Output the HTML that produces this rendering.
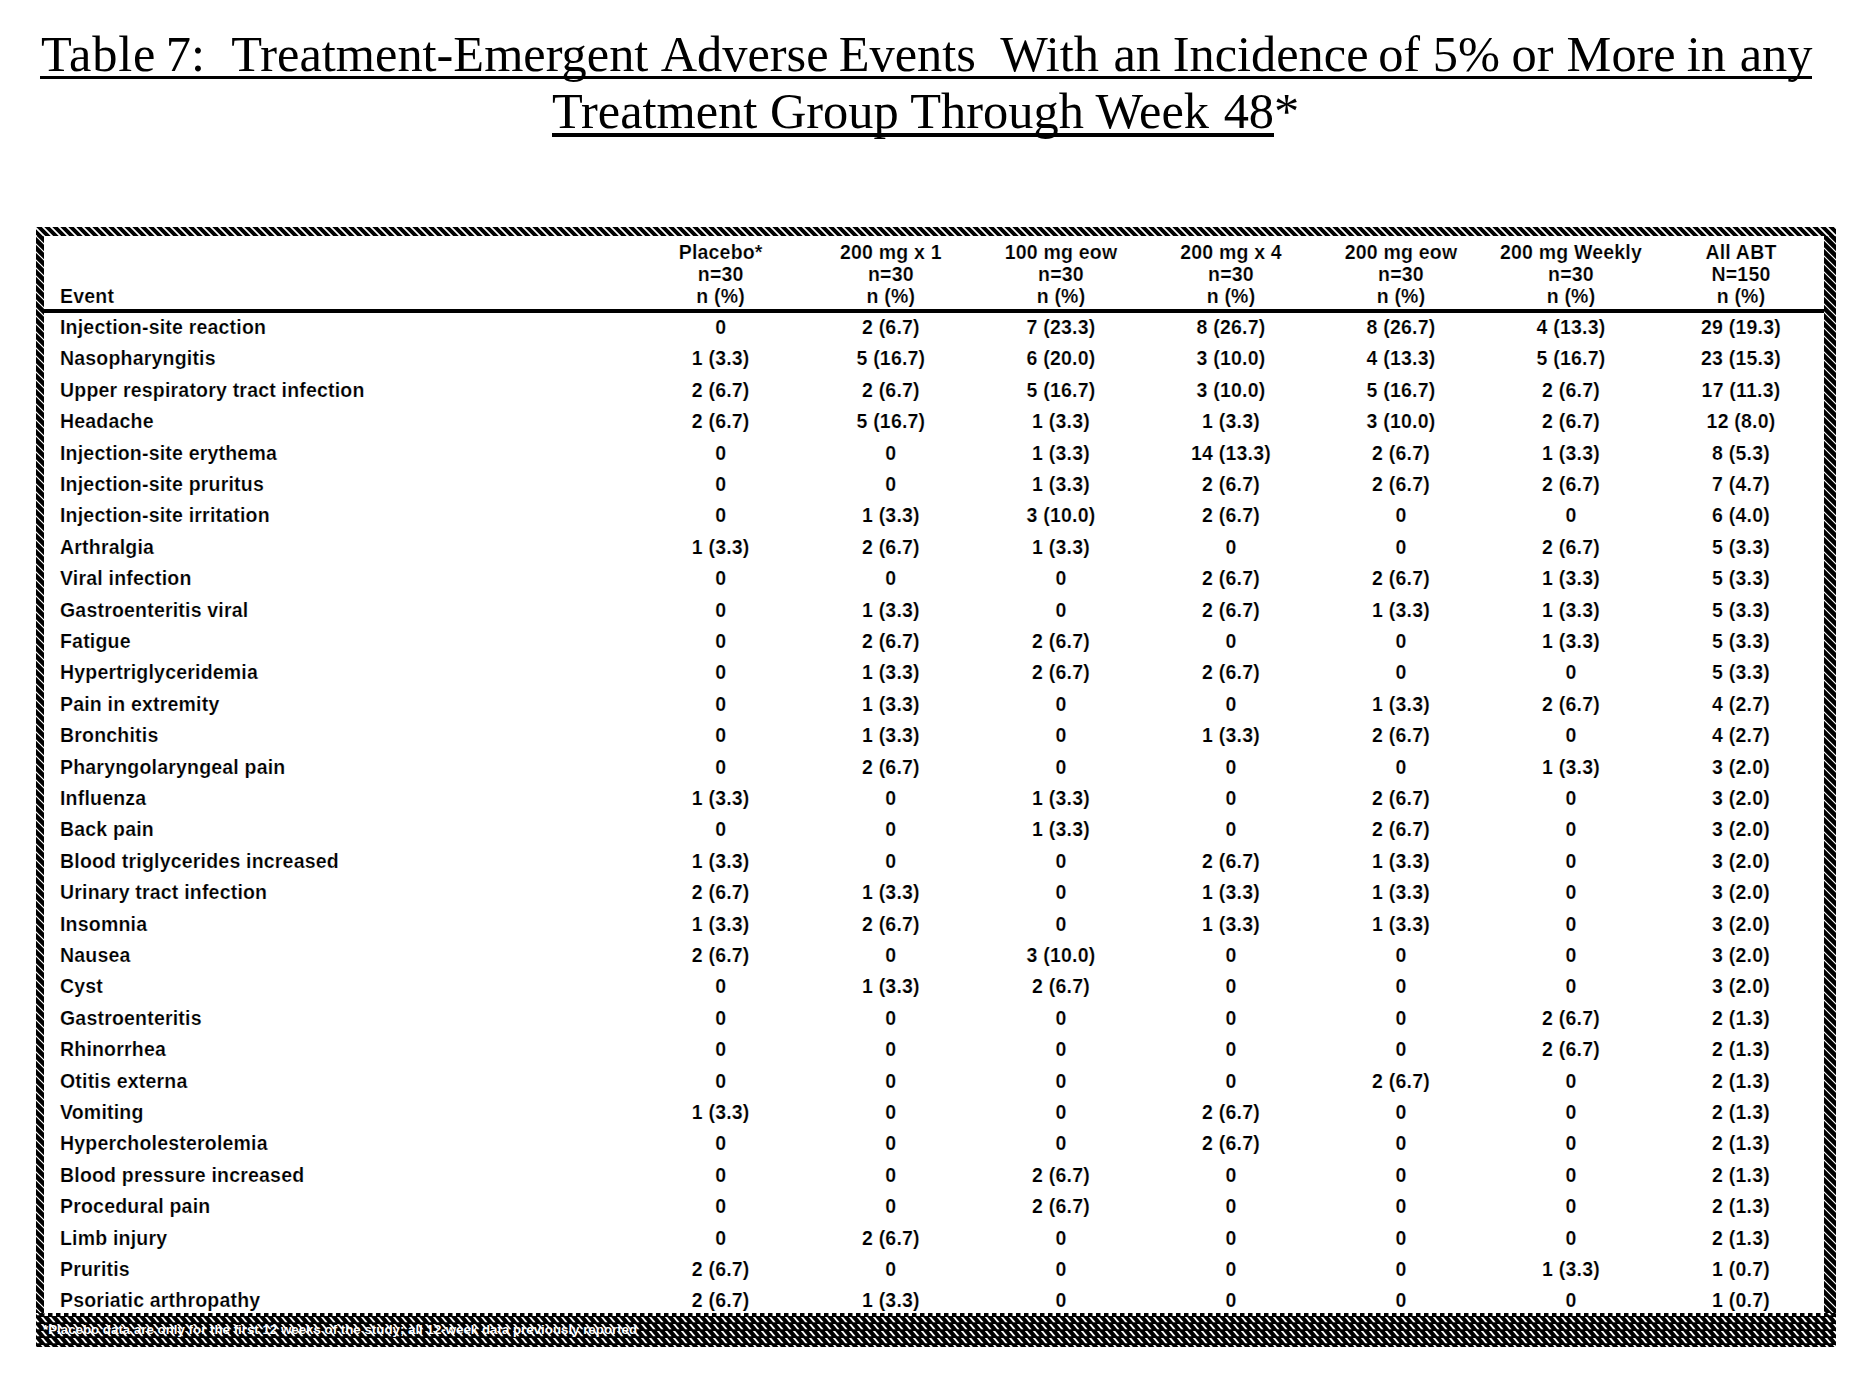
<!DOCTYPE html>
<html><head><meta charset="utf-8"><style>
html,body{margin:0;padding:0;background:#fff;}
body{width:1867px;height:1387px;position:relative;overflow:hidden;}
.t{position:absolute;font-family:"Liberation Serif",serif;font-size:50.4px;color:#000;white-space:pre;line-height:1;}
.u{text-decoration:underline;text-decoration-skip-ink:none;text-decoration-thickness:3px;text-underline-offset:5px;}
.c{position:absolute;font-family:"Liberation Sans",sans-serif;font-size:19.5px;font-weight:bold;letter-spacing:0.2px;color:#000;-webkit-text-stroke:0.2px #fff;white-space:pre;line-height:1;}
.ctr{text-align:center;width:160px;}
.frame{position:absolute;left:0;top:0;}
.rule{position:absolute;background:#000;}
.foot{position:absolute;font-family:"Liberation Sans",sans-serif;font-size:13.3px;font-weight:bold;color:#fff;white-space:pre;line-height:1;}
</style></head><body>

<div class="t" style="left:41px;top:29px;"><span style="position:relative;left:0px;letter-spacing:0.8px;margin-right:-4px;">Table</span> <span style="position:relative;left:1px;">7:</span>  <span style="position:relative;left:3px;">Treatment-Emergent</span> <span style="position:relative;left:5.5px;">Adverse</span> <span style="position:relative;left:3px;">Events</span>  <span style="position:relative;left:3px;">With</span> <span style="position:relative;left:5px;">an</span> <span style="position:relative;left:4px;">Incidence</span> <span style="position:relative;left:1px;">of</span> <span style="position:relative;left:1px;">5%</span> <span style="position:relative;left:0px;">or</span> <span style="position:relative;left:0.5px;">More</span> <span style="position:relative;left:-1px;">in</span> <span style="position:relative;left:0px;">any</span></div>
<div class="t" style="left:552px;top:86px;"><span style="position:relative;left:0px;">Treatment</span> <span style="position:relative;left:0px;">Group</span> <span style="position:relative;left:0px;">Through</span> <span style="position:relative;left:0px;">Week</span> <span style="position:relative;left:2px;">48*</span></div>
<div class="rule" style="left:40px;top:76px;width:1772px;height:3px;"></div>
<div class="rule" style="left:552px;top:133px;width:722px;height:4px;"></div>
<svg class="frame" width="1867" height="1387"><defs><pattern id="h" patternUnits="userSpaceOnUse" width="8" height="8"><rect width="8" height="8" fill="#000"/><path d="M0 0 L1.2 0 L8 6.8 L8 8 L6.8 8 L0 1.2 Z M6.8 0 L8 0 L8 1.2 Z M0 6.8 L1.2 8 L0 8 Z" fill="#fff"/></pattern><pattern id="r" patternUnits="userSpaceOnUse" width="8" height="8"><rect width="8" height="8" fill="#000"/><path d="M0 0 L0.8 0 L8 7.2 L8 8 L7.2 8 L0 0.8 Z M7.2 0 L8 0 L8 0.8 Z M0 7.2 L0.8 8 L0 8 Z" fill="#fff"/></pattern><pattern id="l" patternUnits="userSpaceOnUse" x="36" y="227" width="8" height="7"><rect width="8" height="7" fill="#000"/><rect x="3" y="1" width="2" height="2" fill="#fff"/><rect x="0" y="4" width="1" height="2" fill="#fff"/></pattern><pattern id="b" patternUnits="userSpaceOnUse" x="0" y="1317" width="8" height="7"><rect width="8" height="7" fill="#000"/><path d="M0.8 0 L3.2 0 L7.6 5.2 L5.2 5.2 Z" fill="#fff"/></pattern><pattern id="n" patternUnits="userSpaceOnUse" x="0" y="0" width="8" height="8"><rect width="8" height="8" fill="#000"/><rect x="4.5" width="3.5" height="8" fill="#fff"/></pattern></defs>
<rect x="36" y="227" width="1800" height="9" fill="url(#h)"/>
<rect x="36" y="236" width="8" height="1077" fill="url(#r)"/>
<rect x="1824" y="236" width="12" height="1077" fill="url(#r)"/>
<rect x="36" y="1313" width="1800" height="34" fill="url(#b)"/>
<rect x="44" y="1313" width="1780" height="3" fill="url(#n)"/>
</svg>
<div class="foot" style="left:43px;top:1323px;">*Placebo data are only for the first 12 weeks of the study; all 12-week data previously reported</div>
<div class="rule" style="left:44px;top:309px;width:1780px;height:4px;"></div>
<div class="c" style="left:60px;top:287px;">Event</div>
<div class="c ctr" style="left:640.7px;top:243px;">Placebo*</div>
<div class="c ctr" style="left:640.7px;top:265px;">n=30</div>
<div class="c ctr" style="left:640.7px;top:287px;">n (%)</div>
<div class="c ctr" style="left:810.9px;top:243px;">200 mg x 1</div>
<div class="c ctr" style="left:810.9px;top:265px;">n=30</div>
<div class="c ctr" style="left:810.9px;top:287px;">n (%)</div>
<div class="c ctr" style="left:981.0px;top:243px;">100 mg eow</div>
<div class="c ctr" style="left:981.0px;top:265px;">n=30</div>
<div class="c ctr" style="left:981.0px;top:287px;">n (%)</div>
<div class="c ctr" style="left:1151.0px;top:243px;">200 mg x 4</div>
<div class="c ctr" style="left:1151.0px;top:265px;">n=30</div>
<div class="c ctr" style="left:1151.0px;top:287px;">n (%)</div>
<div class="c ctr" style="left:1321.0px;top:243px;">200 mg eow</div>
<div class="c ctr" style="left:1321.0px;top:265px;">n=30</div>
<div class="c ctr" style="left:1321.0px;top:287px;">n (%)</div>
<div class="c ctr" style="left:1491.0px;top:243px;">200 mg Weekly</div>
<div class="c ctr" style="left:1491.0px;top:265px;">n=30</div>
<div class="c ctr" style="left:1491.0px;top:287px;">n (%)</div>
<div class="c ctr" style="left:1661.0px;top:243px;">All ABT</div>
<div class="c ctr" style="left:1661.0px;top:265px;">N=150</div>
<div class="c ctr" style="left:1661.0px;top:287px;">n (%)</div>
<div class="c" style="left:60px;top:318.0px;">Injection-site reaction</div>
<div class="c ctr" style="left:640.7px;top:318.0px;">0</div>
<div class="c ctr" style="left:810.9px;top:318.0px;">2 (6.7)</div>
<div class="c ctr" style="left:981.0px;top:318.0px;">7 (23.3)</div>
<div class="c ctr" style="left:1151.0px;top:318.0px;">8 (26.7)</div>
<div class="c ctr" style="left:1321.0px;top:318.0px;">8 (26.7)</div>
<div class="c ctr" style="left:1491.0px;top:318.0px;">4 (13.3)</div>
<div class="c ctr" style="left:1661.0px;top:318.0px;">29 (19.3)</div>
<div class="c" style="left:60px;top:349.4px;">Nasopharyngitis</div>
<div class="c ctr" style="left:640.7px;top:349.4px;">1 (3.3)</div>
<div class="c ctr" style="left:810.9px;top:349.4px;">5 (16.7)</div>
<div class="c ctr" style="left:981.0px;top:349.4px;">6 (20.0)</div>
<div class="c ctr" style="left:1151.0px;top:349.4px;">3 (10.0)</div>
<div class="c ctr" style="left:1321.0px;top:349.4px;">4 (13.3)</div>
<div class="c ctr" style="left:1491.0px;top:349.4px;">5 (16.7)</div>
<div class="c ctr" style="left:1661.0px;top:349.4px;">23 (15.3)</div>
<div class="c" style="left:60px;top:380.8px;">Upper respiratory tract infection</div>
<div class="c ctr" style="left:640.7px;top:380.8px;">2 (6.7)</div>
<div class="c ctr" style="left:810.9px;top:380.8px;">2 (6.7)</div>
<div class="c ctr" style="left:981.0px;top:380.8px;">5 (16.7)</div>
<div class="c ctr" style="left:1151.0px;top:380.8px;">3 (10.0)</div>
<div class="c ctr" style="left:1321.0px;top:380.8px;">5 (16.7)</div>
<div class="c ctr" style="left:1491.0px;top:380.8px;">2 (6.7)</div>
<div class="c ctr" style="left:1661.0px;top:380.8px;">17 (11.3)</div>
<div class="c" style="left:60px;top:412.2px;">Headache</div>
<div class="c ctr" style="left:640.7px;top:412.2px;">2 (6.7)</div>
<div class="c ctr" style="left:810.9px;top:412.2px;">5 (16.7)</div>
<div class="c ctr" style="left:981.0px;top:412.2px;">1 (3.3)</div>
<div class="c ctr" style="left:1151.0px;top:412.2px;">1 (3.3)</div>
<div class="c ctr" style="left:1321.0px;top:412.2px;">3 (10.0)</div>
<div class="c ctr" style="left:1491.0px;top:412.2px;">2 (6.7)</div>
<div class="c ctr" style="left:1661.0px;top:412.2px;">12 (8.0)</div>
<div class="c" style="left:60px;top:443.6px;">Injection-site erythema</div>
<div class="c ctr" style="left:640.7px;top:443.6px;">0</div>
<div class="c ctr" style="left:810.9px;top:443.6px;">0</div>
<div class="c ctr" style="left:981.0px;top:443.6px;">1 (3.3)</div>
<div class="c ctr" style="left:1151.0px;top:443.6px;">14 (13.3)</div>
<div class="c ctr" style="left:1321.0px;top:443.6px;">2 (6.7)</div>
<div class="c ctr" style="left:1491.0px;top:443.6px;">1 (3.3)</div>
<div class="c ctr" style="left:1661.0px;top:443.6px;">8 (5.3)</div>
<div class="c" style="left:60px;top:475.0px;">Injection-site pruritus</div>
<div class="c ctr" style="left:640.7px;top:475.0px;">0</div>
<div class="c ctr" style="left:810.9px;top:475.0px;">0</div>
<div class="c ctr" style="left:981.0px;top:475.0px;">1 (3.3)</div>
<div class="c ctr" style="left:1151.0px;top:475.0px;">2 (6.7)</div>
<div class="c ctr" style="left:1321.0px;top:475.0px;">2 (6.7)</div>
<div class="c ctr" style="left:1491.0px;top:475.0px;">2 (6.7)</div>
<div class="c ctr" style="left:1661.0px;top:475.0px;">7 (4.7)</div>
<div class="c" style="left:60px;top:506.4px;">Injection-site irritation</div>
<div class="c ctr" style="left:640.7px;top:506.4px;">0</div>
<div class="c ctr" style="left:810.9px;top:506.4px;">1 (3.3)</div>
<div class="c ctr" style="left:981.0px;top:506.4px;">3 (10.0)</div>
<div class="c ctr" style="left:1151.0px;top:506.4px;">2 (6.7)</div>
<div class="c ctr" style="left:1321.0px;top:506.4px;">0</div>
<div class="c ctr" style="left:1491.0px;top:506.4px;">0</div>
<div class="c ctr" style="left:1661.0px;top:506.4px;">6 (4.0)</div>
<div class="c" style="left:60px;top:537.8px;">Arthralgia</div>
<div class="c ctr" style="left:640.7px;top:537.8px;">1 (3.3)</div>
<div class="c ctr" style="left:810.9px;top:537.8px;">2 (6.7)</div>
<div class="c ctr" style="left:981.0px;top:537.8px;">1 (3.3)</div>
<div class="c ctr" style="left:1151.0px;top:537.8px;">0</div>
<div class="c ctr" style="left:1321.0px;top:537.8px;">0</div>
<div class="c ctr" style="left:1491.0px;top:537.8px;">2 (6.7)</div>
<div class="c ctr" style="left:1661.0px;top:537.8px;">5 (3.3)</div>
<div class="c" style="left:60px;top:569.2px;">Viral infection</div>
<div class="c ctr" style="left:640.7px;top:569.2px;">0</div>
<div class="c ctr" style="left:810.9px;top:569.2px;">0</div>
<div class="c ctr" style="left:981.0px;top:569.2px;">0</div>
<div class="c ctr" style="left:1151.0px;top:569.2px;">2 (6.7)</div>
<div class="c ctr" style="left:1321.0px;top:569.2px;">2 (6.7)</div>
<div class="c ctr" style="left:1491.0px;top:569.2px;">1 (3.3)</div>
<div class="c ctr" style="left:1661.0px;top:569.2px;">5 (3.3)</div>
<div class="c" style="left:60px;top:600.6px;">Gastroenteritis viral</div>
<div class="c ctr" style="left:640.7px;top:600.6px;">0</div>
<div class="c ctr" style="left:810.9px;top:600.6px;">1 (3.3)</div>
<div class="c ctr" style="left:981.0px;top:600.6px;">0</div>
<div class="c ctr" style="left:1151.0px;top:600.6px;">2 (6.7)</div>
<div class="c ctr" style="left:1321.0px;top:600.6px;">1 (3.3)</div>
<div class="c ctr" style="left:1491.0px;top:600.6px;">1 (3.3)</div>
<div class="c ctr" style="left:1661.0px;top:600.6px;">5 (3.3)</div>
<div class="c" style="left:60px;top:632.0px;">Fatigue</div>
<div class="c ctr" style="left:640.7px;top:632.0px;">0</div>
<div class="c ctr" style="left:810.9px;top:632.0px;">2 (6.7)</div>
<div class="c ctr" style="left:981.0px;top:632.0px;">2 (6.7)</div>
<div class="c ctr" style="left:1151.0px;top:632.0px;">0</div>
<div class="c ctr" style="left:1321.0px;top:632.0px;">0</div>
<div class="c ctr" style="left:1491.0px;top:632.0px;">1 (3.3)</div>
<div class="c ctr" style="left:1661.0px;top:632.0px;">5 (3.3)</div>
<div class="c" style="left:60px;top:663.4px;">Hypertriglyceridemia</div>
<div class="c ctr" style="left:640.7px;top:663.4px;">0</div>
<div class="c ctr" style="left:810.9px;top:663.4px;">1 (3.3)</div>
<div class="c ctr" style="left:981.0px;top:663.4px;">2 (6.7)</div>
<div class="c ctr" style="left:1151.0px;top:663.4px;">2 (6.7)</div>
<div class="c ctr" style="left:1321.0px;top:663.4px;">0</div>
<div class="c ctr" style="left:1491.0px;top:663.4px;">0</div>
<div class="c ctr" style="left:1661.0px;top:663.4px;">5 (3.3)</div>
<div class="c" style="left:60px;top:694.8px;">Pain in extremity</div>
<div class="c ctr" style="left:640.7px;top:694.8px;">0</div>
<div class="c ctr" style="left:810.9px;top:694.8px;">1 (3.3)</div>
<div class="c ctr" style="left:981.0px;top:694.8px;">0</div>
<div class="c ctr" style="left:1151.0px;top:694.8px;">0</div>
<div class="c ctr" style="left:1321.0px;top:694.8px;">1 (3.3)</div>
<div class="c ctr" style="left:1491.0px;top:694.8px;">2 (6.7)</div>
<div class="c ctr" style="left:1661.0px;top:694.8px;">4 (2.7)</div>
<div class="c" style="left:60px;top:726.2px;">Bronchitis</div>
<div class="c ctr" style="left:640.7px;top:726.2px;">0</div>
<div class="c ctr" style="left:810.9px;top:726.2px;">1 (3.3)</div>
<div class="c ctr" style="left:981.0px;top:726.2px;">0</div>
<div class="c ctr" style="left:1151.0px;top:726.2px;">1 (3.3)</div>
<div class="c ctr" style="left:1321.0px;top:726.2px;">2 (6.7)</div>
<div class="c ctr" style="left:1491.0px;top:726.2px;">0</div>
<div class="c ctr" style="left:1661.0px;top:726.2px;">4 (2.7)</div>
<div class="c" style="left:60px;top:757.6px;">Pharyngolaryngeal pain</div>
<div class="c ctr" style="left:640.7px;top:757.6px;">0</div>
<div class="c ctr" style="left:810.9px;top:757.6px;">2 (6.7)</div>
<div class="c ctr" style="left:981.0px;top:757.6px;">0</div>
<div class="c ctr" style="left:1151.0px;top:757.6px;">0</div>
<div class="c ctr" style="left:1321.0px;top:757.6px;">0</div>
<div class="c ctr" style="left:1491.0px;top:757.6px;">1 (3.3)</div>
<div class="c ctr" style="left:1661.0px;top:757.6px;">3 (2.0)</div>
<div class="c" style="left:60px;top:789.0px;">Influenza</div>
<div class="c ctr" style="left:640.7px;top:789.0px;">1 (3.3)</div>
<div class="c ctr" style="left:810.9px;top:789.0px;">0</div>
<div class="c ctr" style="left:981.0px;top:789.0px;">1 (3.3)</div>
<div class="c ctr" style="left:1151.0px;top:789.0px;">0</div>
<div class="c ctr" style="left:1321.0px;top:789.0px;">2 (6.7)</div>
<div class="c ctr" style="left:1491.0px;top:789.0px;">0</div>
<div class="c ctr" style="left:1661.0px;top:789.0px;">3 (2.0)</div>
<div class="c" style="left:60px;top:820.4px;">Back pain</div>
<div class="c ctr" style="left:640.7px;top:820.4px;">0</div>
<div class="c ctr" style="left:810.9px;top:820.4px;">0</div>
<div class="c ctr" style="left:981.0px;top:820.4px;">1 (3.3)</div>
<div class="c ctr" style="left:1151.0px;top:820.4px;">0</div>
<div class="c ctr" style="left:1321.0px;top:820.4px;">2 (6.7)</div>
<div class="c ctr" style="left:1491.0px;top:820.4px;">0</div>
<div class="c ctr" style="left:1661.0px;top:820.4px;">3 (2.0)</div>
<div class="c" style="left:60px;top:851.8px;">Blood triglycerides increased</div>
<div class="c ctr" style="left:640.7px;top:851.8px;">1 (3.3)</div>
<div class="c ctr" style="left:810.9px;top:851.8px;">0</div>
<div class="c ctr" style="left:981.0px;top:851.8px;">0</div>
<div class="c ctr" style="left:1151.0px;top:851.8px;">2 (6.7)</div>
<div class="c ctr" style="left:1321.0px;top:851.8px;">1 (3.3)</div>
<div class="c ctr" style="left:1491.0px;top:851.8px;">0</div>
<div class="c ctr" style="left:1661.0px;top:851.8px;">3 (2.0)</div>
<div class="c" style="left:60px;top:883.2px;">Urinary tract infection</div>
<div class="c ctr" style="left:640.7px;top:883.2px;">2 (6.7)</div>
<div class="c ctr" style="left:810.9px;top:883.2px;">1 (3.3)</div>
<div class="c ctr" style="left:981.0px;top:883.2px;">0</div>
<div class="c ctr" style="left:1151.0px;top:883.2px;">1 (3.3)</div>
<div class="c ctr" style="left:1321.0px;top:883.2px;">1 (3.3)</div>
<div class="c ctr" style="left:1491.0px;top:883.2px;">0</div>
<div class="c ctr" style="left:1661.0px;top:883.2px;">3 (2.0)</div>
<div class="c" style="left:60px;top:914.6px;">Insomnia</div>
<div class="c ctr" style="left:640.7px;top:914.6px;">1 (3.3)</div>
<div class="c ctr" style="left:810.9px;top:914.6px;">2 (6.7)</div>
<div class="c ctr" style="left:981.0px;top:914.6px;">0</div>
<div class="c ctr" style="left:1151.0px;top:914.6px;">1 (3.3)</div>
<div class="c ctr" style="left:1321.0px;top:914.6px;">1 (3.3)</div>
<div class="c ctr" style="left:1491.0px;top:914.6px;">0</div>
<div class="c ctr" style="left:1661.0px;top:914.6px;">3 (2.0)</div>
<div class="c" style="left:60px;top:946.0px;">Nausea</div>
<div class="c ctr" style="left:640.7px;top:946.0px;">2 (6.7)</div>
<div class="c ctr" style="left:810.9px;top:946.0px;">0</div>
<div class="c ctr" style="left:981.0px;top:946.0px;">3 (10.0)</div>
<div class="c ctr" style="left:1151.0px;top:946.0px;">0</div>
<div class="c ctr" style="left:1321.0px;top:946.0px;">0</div>
<div class="c ctr" style="left:1491.0px;top:946.0px;">0</div>
<div class="c ctr" style="left:1661.0px;top:946.0px;">3 (2.0)</div>
<div class="c" style="left:60px;top:977.4px;">Cyst</div>
<div class="c ctr" style="left:640.7px;top:977.4px;">0</div>
<div class="c ctr" style="left:810.9px;top:977.4px;">1 (3.3)</div>
<div class="c ctr" style="left:981.0px;top:977.4px;">2 (6.7)</div>
<div class="c ctr" style="left:1151.0px;top:977.4px;">0</div>
<div class="c ctr" style="left:1321.0px;top:977.4px;">0</div>
<div class="c ctr" style="left:1491.0px;top:977.4px;">0</div>
<div class="c ctr" style="left:1661.0px;top:977.4px;">3 (2.0)</div>
<div class="c" style="left:60px;top:1008.8px;">Gastroenteritis</div>
<div class="c ctr" style="left:640.7px;top:1008.8px;">0</div>
<div class="c ctr" style="left:810.9px;top:1008.8px;">0</div>
<div class="c ctr" style="left:981.0px;top:1008.8px;">0</div>
<div class="c ctr" style="left:1151.0px;top:1008.8px;">0</div>
<div class="c ctr" style="left:1321.0px;top:1008.8px;">0</div>
<div class="c ctr" style="left:1491.0px;top:1008.8px;">2 (6.7)</div>
<div class="c ctr" style="left:1661.0px;top:1008.8px;">2 (1.3)</div>
<div class="c" style="left:60px;top:1040.2px;">Rhinorrhea</div>
<div class="c ctr" style="left:640.7px;top:1040.2px;">0</div>
<div class="c ctr" style="left:810.9px;top:1040.2px;">0</div>
<div class="c ctr" style="left:981.0px;top:1040.2px;">0</div>
<div class="c ctr" style="left:1151.0px;top:1040.2px;">0</div>
<div class="c ctr" style="left:1321.0px;top:1040.2px;">0</div>
<div class="c ctr" style="left:1491.0px;top:1040.2px;">2 (6.7)</div>
<div class="c ctr" style="left:1661.0px;top:1040.2px;">2 (1.3)</div>
<div class="c" style="left:60px;top:1071.6px;">Otitis externa</div>
<div class="c ctr" style="left:640.7px;top:1071.6px;">0</div>
<div class="c ctr" style="left:810.9px;top:1071.6px;">0</div>
<div class="c ctr" style="left:981.0px;top:1071.6px;">0</div>
<div class="c ctr" style="left:1151.0px;top:1071.6px;">0</div>
<div class="c ctr" style="left:1321.0px;top:1071.6px;">2 (6.7)</div>
<div class="c ctr" style="left:1491.0px;top:1071.6px;">0</div>
<div class="c ctr" style="left:1661.0px;top:1071.6px;">2 (1.3)</div>
<div class="c" style="left:60px;top:1103.0px;">Vomiting</div>
<div class="c ctr" style="left:640.7px;top:1103.0px;">1 (3.3)</div>
<div class="c ctr" style="left:810.9px;top:1103.0px;">0</div>
<div class="c ctr" style="left:981.0px;top:1103.0px;">0</div>
<div class="c ctr" style="left:1151.0px;top:1103.0px;">2 (6.7)</div>
<div class="c ctr" style="left:1321.0px;top:1103.0px;">0</div>
<div class="c ctr" style="left:1491.0px;top:1103.0px;">0</div>
<div class="c ctr" style="left:1661.0px;top:1103.0px;">2 (1.3)</div>
<div class="c" style="left:60px;top:1134.4px;">Hypercholesterolemia</div>
<div class="c ctr" style="left:640.7px;top:1134.4px;">0</div>
<div class="c ctr" style="left:810.9px;top:1134.4px;">0</div>
<div class="c ctr" style="left:981.0px;top:1134.4px;">0</div>
<div class="c ctr" style="left:1151.0px;top:1134.4px;">2 (6.7)</div>
<div class="c ctr" style="left:1321.0px;top:1134.4px;">0</div>
<div class="c ctr" style="left:1491.0px;top:1134.4px;">0</div>
<div class="c ctr" style="left:1661.0px;top:1134.4px;">2 (1.3)</div>
<div class="c" style="left:60px;top:1165.8px;">Blood pressure increased</div>
<div class="c ctr" style="left:640.7px;top:1165.8px;">0</div>
<div class="c ctr" style="left:810.9px;top:1165.8px;">0</div>
<div class="c ctr" style="left:981.0px;top:1165.8px;">2 (6.7)</div>
<div class="c ctr" style="left:1151.0px;top:1165.8px;">0</div>
<div class="c ctr" style="left:1321.0px;top:1165.8px;">0</div>
<div class="c ctr" style="left:1491.0px;top:1165.8px;">0</div>
<div class="c ctr" style="left:1661.0px;top:1165.8px;">2 (1.3)</div>
<div class="c" style="left:60px;top:1197.2px;">Procedural pain</div>
<div class="c ctr" style="left:640.7px;top:1197.2px;">0</div>
<div class="c ctr" style="left:810.9px;top:1197.2px;">0</div>
<div class="c ctr" style="left:981.0px;top:1197.2px;">2 (6.7)</div>
<div class="c ctr" style="left:1151.0px;top:1197.2px;">0</div>
<div class="c ctr" style="left:1321.0px;top:1197.2px;">0</div>
<div class="c ctr" style="left:1491.0px;top:1197.2px;">0</div>
<div class="c ctr" style="left:1661.0px;top:1197.2px;">2 (1.3)</div>
<div class="c" style="left:60px;top:1228.6px;">Limb injury</div>
<div class="c ctr" style="left:640.7px;top:1228.6px;">0</div>
<div class="c ctr" style="left:810.9px;top:1228.6px;">2 (6.7)</div>
<div class="c ctr" style="left:981.0px;top:1228.6px;">0</div>
<div class="c ctr" style="left:1151.0px;top:1228.6px;">0</div>
<div class="c ctr" style="left:1321.0px;top:1228.6px;">0</div>
<div class="c ctr" style="left:1491.0px;top:1228.6px;">0</div>
<div class="c ctr" style="left:1661.0px;top:1228.6px;">2 (1.3)</div>
<div class="c" style="left:60px;top:1260.0px;">Pruritis</div>
<div class="c ctr" style="left:640.7px;top:1260.0px;">2 (6.7)</div>
<div class="c ctr" style="left:810.9px;top:1260.0px;">0</div>
<div class="c ctr" style="left:981.0px;top:1260.0px;">0</div>
<div class="c ctr" style="left:1151.0px;top:1260.0px;">0</div>
<div class="c ctr" style="left:1321.0px;top:1260.0px;">0</div>
<div class="c ctr" style="left:1491.0px;top:1260.0px;">1 (3.3)</div>
<div class="c ctr" style="left:1661.0px;top:1260.0px;">1 (0.7)</div>
<div class="c" style="left:60px;top:1291.4px;">Psoriatic arthropathy</div>
<div class="c ctr" style="left:640.7px;top:1291.4px;">2 (6.7)</div>
<div class="c ctr" style="left:810.9px;top:1291.4px;">1 (3.3)</div>
<div class="c ctr" style="left:981.0px;top:1291.4px;">0</div>
<div class="c ctr" style="left:1151.0px;top:1291.4px;">0</div>
<div class="c ctr" style="left:1321.0px;top:1291.4px;">0</div>
<div class="c ctr" style="left:1491.0px;top:1291.4px;">0</div>
<div class="c ctr" style="left:1661.0px;top:1291.4px;">1 (0.7)</div>
</body></html>
